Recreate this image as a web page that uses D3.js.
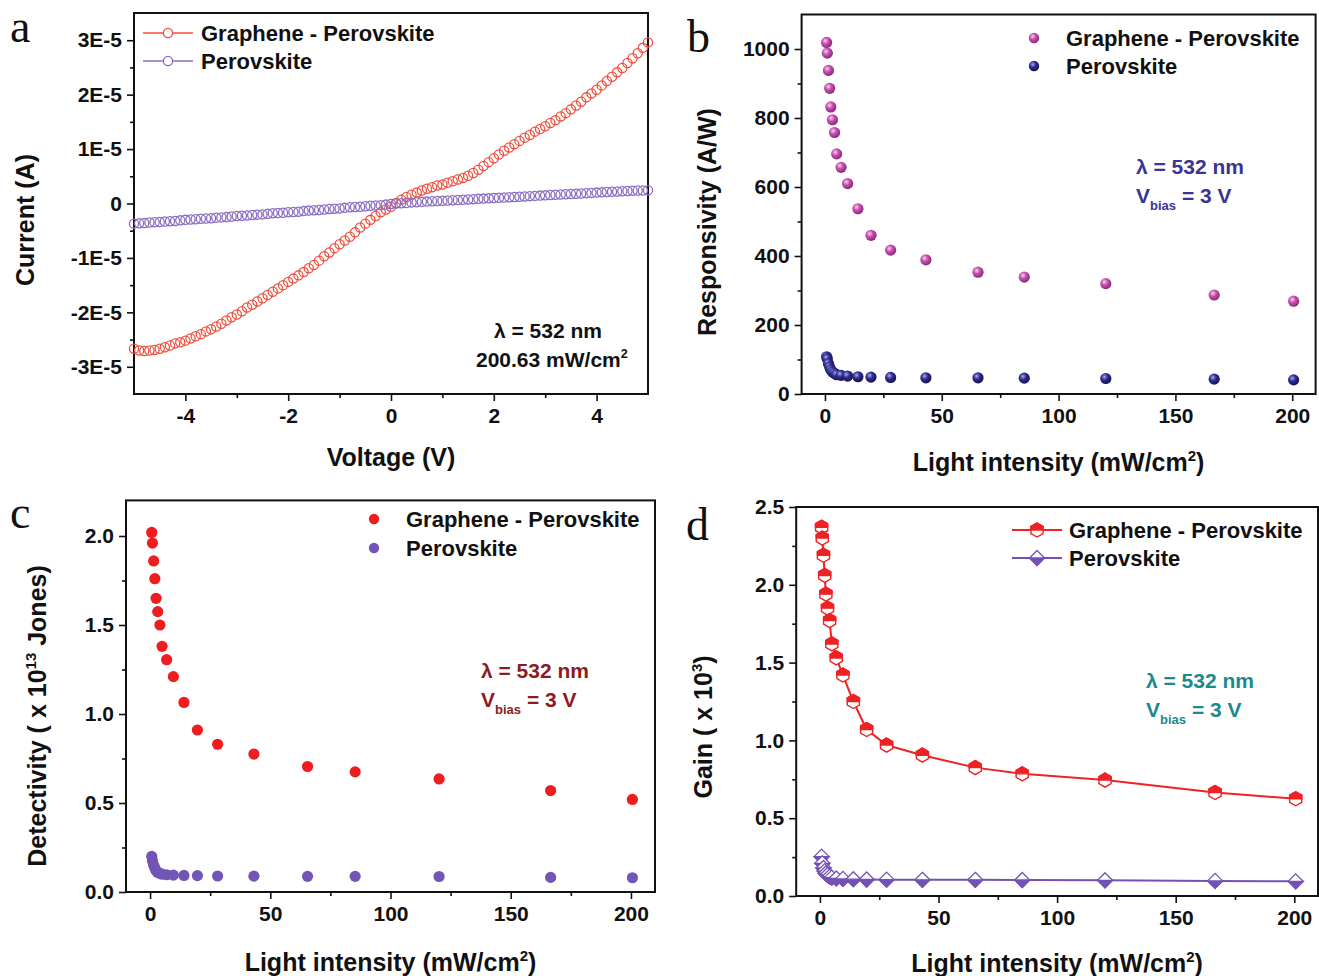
<!DOCTYPE html>
<html>
<head>
<meta charset="utf-8">
<script src="https://cdn.jsdelivr.net/npm/d3@7"></script>
<style>
    body { margin: 0; background: #fff; }
    svg text { font-family: "Liberation Sans", Arial, sans-serif; font-weight: bold; fill: #111; }
</style>
</head>
<body>
<div id="chart"></div>
<script>
"use strict";

// panel a: I-V sweep, current kept in units of 1E-5 A
var voltage = [
    -5.0, -4.9, -4.8, -4.7, -4.6, -4.5, -4.4, -4.3, -4.2, -4.1,
    -4.0, -3.9, -3.8, -3.7, -3.6, -3.5, -3.4, -3.3, -3.2, -3.1,
    -3.0, -2.9, -2.8, -2.7, -2.6, -2.5, -2.4, -2.3, -2.2, -2.1,
    -2.0, -1.9, -1.8, -1.7, -1.6, -1.5, -1.4, -1.3, -1.2, -1.1,
    -1.0, -0.9, -0.8, -0.7, -0.6, -0.5, -0.4, -0.3, -0.2, -0.1,
    0.0, 0.1, 0.2, 0.3, 0.4, 0.5, 0.6, 0.7, 0.8, 0.9,
    1.0, 1.1, 1.2, 1.3, 1.4, 1.5, 1.6, 1.7, 1.8, 1.9,
    2.0, 2.1, 2.2, 2.3, 2.4, 2.5, 2.6, 2.7, 2.8, 2.9,
    3.0, 3.1, 3.2, 3.3, 3.4, 3.5, 3.6, 3.7, 3.8, 3.9,
    4.0, 4.1, 4.2, 4.3, 4.4, 4.5, 4.6, 4.7, 4.8, 4.9,
    5.0
];
var currentGP = [
    -2.67, -2.70, -2.71, -2.70, -2.69, -2.67, -2.64, -2.61, -2.57, -2.55,
    -2.52, -2.48, -2.44, -2.40, -2.35, -2.31, -2.26, -2.21, -2.15, -2.09,
    -2.04, -1.98, -1.91, -1.86, -1.80, -1.74, -1.68, -1.62, -1.56, -1.50,
    -1.44, -1.38, -1.32, -1.26, -1.19, -1.13, -1.05, -0.97, -0.90, -0.82,
    -0.75, -0.68, -0.61, -0.53, -0.44, -0.37, -0.30, -0.23, -0.16, -0.11,
    -0.06, 0.01, 0.07, 0.12, 0.16, 0.20, 0.24, 0.27, 0.30, 0.33,
    0.35, 0.38, 0.41, 0.44, 0.47, 0.51, 0.56, 0.62, 0.69, 0.76,
    0.83, 0.90, 0.97, 1.03, 1.09, 1.15, 1.21, 1.26, 1.32, 1.37,
    1.42, 1.48, 1.53, 1.60, 1.66, 1.73, 1.80, 1.87, 1.95, 2.02,
    2.09, 2.17, 2.25, 2.33, 2.41, 2.49, 2.58, 2.67, 2.76, 2.86,
    2.96
];
var currentP = [
    -0.370, -0.365, -0.360, -0.350, -0.345, -0.340, -0.330, -0.325, -0.320, -0.310,
    -0.300, -0.295, -0.290, -0.280, -0.275, -0.270, -0.260, -0.255, -0.250, -0.240,
    -0.230, -0.225, -0.220, -0.210, -0.205, -0.200, -0.190, -0.180, -0.175, -0.170,
    -0.160, -0.155, -0.150, -0.140, -0.130, -0.125, -0.120, -0.110, -0.100, -0.095,
    -0.090, -0.080, -0.070, -0.065, -0.060, -0.050, -0.040, -0.035, -0.030, -0.020,
    -0.010, 0.000, 0.005, 0.010, 0.020, 0.025, 0.030, 0.035, 0.040, 0.045,
    0.050, 0.055, 0.060, 0.065, 0.070, 0.075, 0.080, 0.085, 0.090, 0.095,
    0.100, 0.105, 0.110, 0.115, 0.120, 0.125, 0.130, 0.135, 0.140, 0.145,
    0.150, 0.155, 0.160, 0.165, 0.170, 0.175, 0.180, 0.185, 0.190, 0.195,
    0.200, 0.205, 0.210, 0.215, 0.220, 0.225, 0.230, 0.235, 0.240, 0.240,
    0.245
];

// panels b-d share the light intensities (mW/cm2)
var intensity = [0.7, 1.0, 1.5, 2.0, 2.5, 3.2, 4.1, 5.0, 6.9, 9.7, 14.1, 19.7, 28.1, 43.2, 65.5, 85.3, 120.2, 166.6, 200.6];

var respGP = [1019, 988, 938, 886, 832, 795, 758, 696, 657, 610, 537, 460, 417, 389, 353, 339, 320, 287, 269];
var respP = [108, 102, 88, 78, 70, 64, 60, 56, 54, 52, 50, 49, 48, 47, 47, 46, 45, 43, 41];

var detGP = [2.02, 1.96, 1.86, 1.76, 1.65, 1.575, 1.50, 1.38, 1.305, 1.21, 1.065, 0.91, 0.83, 0.775, 0.705, 0.675, 0.635, 0.57, 0.52];
var detP = [0.20, 0.175, 0.15, 0.135, 0.12, 0.11, 0.105, 0.10, 0.097, 0.095, 0.093, 0.092, 0.090, 0.089, 0.088, 0.088, 0.087, 0.082, 0.080];

var gainGP = [2.37, 2.30, 2.19, 2.06, 1.94, 1.85, 1.77, 1.62, 1.53, 1.42, 1.25, 1.07, 0.97, 0.905, 0.825, 0.785, 0.745, 0.665, 0.625];
var gainP = [0.253, 0.21, 0.18, 0.16, 0.145, 0.135, 0.125, 0.118, 0.113, 0.11, 0.108, 0.106, 0.105, 0.104, 0.104, 0.103, 0.101, 0.097, 0.094];

// tick values
var voltTicks = [-4, -2, 0, 2, 4];
var voltMinor = [-3, -1, 1, 3];
var currentTicks = [-3, -2, -1, 0, 1, 2, 3];
var currentMinor = [-2.5, -1.5, -0.5, 0.5, 1.5, 2.5];
var intensityTicks = [0, 50, 100, 150, 200];
var intensityMinor = [25, 75, 125, 175];
var respTicks = [0, 200, 400, 600, 800, 1000];
var respMinor = [100, 300, 500, 700, 900];
var detTicks = [0, 0.5, 1.0, 1.5, 2.0];
var detMinor = [0.25, 0.75, 1.25, 1.75];
var gainTicks = [0, 0.5, 1.0, 1.5, 2.0, 2.5];
var gainMinor = [0.25, 0.75, 1.25, 1.75, 2.25];

var seriesNames = ["Graphene - Perovskite", "Perovskite"];

var svg = d3.select("#chart").append("svg")
    .attr("width", 1319)
    .attr("height", 976);

var defs = svg.append("defs");

// shaded balls for panel b
function ball_gradient(id, light, mid, dark) {
    var grad = defs.append("radialGradient")
        .attr("id", id)
        .attr("cx", "38%").attr("cy", "35%").attr("r", "65%");
    grad.append("stop").attr("offset", "0%").attr("stop-color", light);
    grad.append("stop").attr("offset", "45%").attr("stop-color", mid);
    grad.append("stop").attr("offset", "100%").attr("stop-color", dark);
}
ball_gradient("ballMagenta", "#f6d2ee", "#c64fb1", "#8a2a78");
ball_gradient("ballNavy", "#a8a8e8", "#2e2c92", "#15134f");

// plain hyphen minus like the original figure
function plain(d) { return String(d); }

// frame, major and minor ticks of one panel
function panel(p) {
    var g = svg.append("g");
    var x = d3.scaleLinear().domain(p.xDomain).range([p.left, p.right]);
    var y = d3.scaleLinear().domain(p.yDomain).range([p.bottom, p.top]);

    var xMinor = g.append("g")
        .attr("transform", "translate(0," + p.bottom + ")")
        .call(d3.axisBottom(x).tickValues(p.xMinor).tickSize(4).tickFormat(""));
    var yMinor = g.append("g")
        .attr("transform", "translate(" + p.left + ",0)")
        .call(d3.axisLeft(y).tickValues(p.yMinor).tickSize(4).tickFormat(""));

    var xAxis = g.append("g")
        .attr("transform", "translate(0," + p.bottom + ")")
        .call(d3.axisBottom(x).tickValues(p.xTicks).tickSize(7).tickPadding(7).tickFormat(p.xFormat));
    var yAxis = g.append("g")
        .attr("transform", "translate(" + p.left + ",0)")
        .call(d3.axisLeft(y).tickValues(p.yTicks).tickSize(7).tickPadding(5).tickFormat(p.yFormat));

    [xMinor, yMinor, xAxis, yAxis].forEach(function(a) {
        a.select(".domain").remove();
        a.selectAll(".tick line").attr("stroke", "#111").attr("stroke-width", 1.6);
    });
    [xAxis, yAxis].forEach(function(a) {
        a.selectAll(".tick text")
            .style("font-size", "21px")
            .style("font-family", "'Liberation Sans', Arial, sans-serif")
            .style("font-weight", "bold")
            .attr("fill", "#111");
    });

    g.append("rect")
        .attr("x", p.left)
        .attr("y", p.top)
        .attr("width", p.right - p.left)
        .attr("height", p.bottom - p.top)
        .attr("fill", "none")
        .attr("stroke", "#111")
        .attr("stroke-width", 2);

    // panel letter
    svg.append("text")
        .attr("x", p.letterPos[0])
        .attr("y", p.letterPos[1])
        .style("font-family", "'Liberation Serif', 'Times New Roman', serif")
        .style("font-weight", "normal")
        .style("font-size", "46px")
        .text(p.letter);

    // x title
    var xt = svg.append("text")
        .attr("x", (p.left + p.right) / 2)
        .attr("y", p.xTitleY)
        .attr("text-anchor", "middle")
        .style("font-size", "25px");
    add_rich(xt, p.xTitle, 25);

    // y title
    var yt = svg.append("text")
        .attr("transform", "translate(" + p.yTitlePos[0] + "," + p.yTitlePos[1] + ") rotate(-90)")
        .attr("text-anchor", "middle")
        .style("font-size", "25px");
    add_rich(yt, p.yTitle, 25);

    return {g: g, x: x, y: y};
}

// text pieces: [string, "sup"|"sub"|undefined]
function add_rich(sel, parts, size) {
    var shift = 0;
    parts.forEach(function(part) {
        var dy = 0;
        var t = sel.append("tspan").text(part[0]);
        if (part[1] === "sup") {
            dy = -0.42 * size;
            t.style("font-size", (size * 0.6) + "px");
        } else if (part[1] === "sub") {
            dy = 0.32 * size;
            t.style("font-size", (size * 0.62) + "px");
        }
        t.attr("dy", dy - shift);
        shift = dy;
    });
}

function annotate(x, y, lines, color, size) {
    lines.forEach(function(line, i) {
        var t = svg.append("text")
            .attr("x", x)
            .attr("y", y + i * 29)
            .style("font-size", size + "px")
            .style("fill", color);
        add_rich(t, line, size);
    });
}

function xy(xs, ys) {
    return xs.map(function(v, i) { return [v, ys[i]]; });
}

function legend_text(x, y, label) {
    svg.append("text")
        .attr("x", x)
        .attr("y", y + 8)
        .style("font-size", "22px")
        .text(label);
}

var lightTitle = [["Light intensity (mW/cm"], ["2", "sup"], [")"]];

// ---------- panel a ----------
var pa = panel({
    left: 134, right: 648, top: 13, bottom: 394,
    xDomain: [-5, 5], yDomain: [-3.5, 3.5],
    xTicks: voltTicks, xMinor: voltMinor, yTicks: currentTicks, yMinor: currentMinor,
    xFormat: plain,
    yFormat: function(d) { return d === 0 ? "0" : d + "E-5"; },
    letter: "a", letterPos: [10, 42],
    xTitle: [["Voltage (V)"]], xTitleY: 466,
    yTitle: [["Current (A)"]], yTitlePos: [34, 220]
});

var ivColors = ["#f0503e", "#8a6cc4"];
[currentGP, currentP].forEach(function(series, k) {
    pa.g.append("g").selectAll("circle")
        .data(xy(voltage, series))
        .enter()
        .append("circle")
        .attr("cx", function(d) { return pa.x(d[0]); })
        .attr("cy", function(d) { return pa.y(d[1]); })
        .attr("r", 4.6)
        .attr("fill", "none")
        .attr("stroke", ivColors[k])
        .attr("stroke-width", 1.3);

    var ly = 33 + k * 28;
    svg.append("line").attr("x1", 143).attr("x2", 193).attr("y1", ly).attr("y2", ly)
        .attr("stroke", ivColors[k]).attr("stroke-width", 1.6);
    svg.append("circle").attr("cx", 168).attr("cy", ly).attr("r", 4.6)
        .attr("fill", "#fff").attr("stroke", ivColors[k]).attr("stroke-width", 1.4);
    legend_text(201, ly, seriesNames[k]);
});
annotate(494, 338, [[["\u03bb = 532 nm"]]], "#111", 21);
annotate(476, 338, [[[""]], [["200.63 mW/cm"], ["2", "sup"]]], "#111", 21);

// ---------- panel b ----------
var pb = panel({
    left: 801.6, right: 1315.6, top: 14.5, bottom: 394,
    xDomain: [-10, 210], yDomain: [0, 1100],
    xTicks: intensityTicks, xMinor: intensityMinor, yTicks: respTicks, yMinor: respMinor,
    xFormat: plain, yFormat: plain,
    letter: "b", letterPos: [687, 52],
    xTitle: lightTitle, xTitleY: 471,
    yTitle: [["Responsivity (A/W)"]], yTitlePos: [716, 222]
});

["ballMagenta", "ballNavy"].forEach(function(fill, k) {
    var series = k === 0 ? respGP : respP;
    pb.g.append("g").selectAll("circle")
        .data(xy(intensity, series))
        .enter()
        .append("circle")
        .attr("cx", function(d) { return pb.x(d[0]); })
        .attr("cy", function(d) { return pb.y(d[1]); })
        .attr("r", 5.6)
        .attr("fill", "url(#" + fill + ")");
    var ly = 38 + k * 28;
    svg.append("circle").attr("cx", 1034).attr("cy", ly).attr("r", 5.2).attr("fill", "url(#" + fill + ")");
    legend_text(1066, ly, seriesNames[k]);
});
annotate(1136, 174, [
    [["\u03bb = 532 nm"]],
    [["V"], ["bias", "sub"], [" = 3 V"]]
], "#3a3592", 21);

// ---------- panel c ----------
var pc = panel({
    left: 126, right: 655, top: 500.4, bottom: 892,
    xDomain: [-10, 210], yDomain: [0, 2.2],
    xTicks: intensityTicks, xMinor: intensityMinor, yTicks: detTicks, yMinor: detMinor,
    xFormat: plain, yFormat: d3.format(".1f"),
    letter: "c", letterPos: [10, 528],
    xTitle: lightTitle, xTitleY: 971,
    yTitle: [["Detectivity ( x 10"], ["13", "sup"], [" Jones)"]], yTitlePos: [46, 716]
});

var detColors = ["#ee1d1f", "#7355b6"];
[detGP, detP].forEach(function(series, k) {
    pc.g.append("g").selectAll("circle")
        .data(xy(intensity, series))
        .enter()
        .append("circle")
        .attr("cx", function(d) { return pc.x(d[0]); })
        .attr("cy", function(d) { return pc.y(d[1]); })
        .attr("r", 5.6)
        .attr("fill", detColors[k]);
    var ly = 519 + k * 29;
    svg.append("circle").attr("cx", 374).attr("cy", ly).attr("r", 5.2).attr("fill", detColors[k]);
    legend_text(406, ly, seriesNames[k]);
});
annotate(481, 678, [
    [["\u03bb = 532 nm"]],
    [["V"], ["bias", "sub"], [" = 3 V"]]
], "#8c1c22", 21);

// ---------- panel d ----------
var pd = panel({
    left: 796.2, right: 1318, top: 507, bottom: 896,
    xDomain: [-10, 210], yDomain: [0, 2.5],
    xTicks: intensityTicks, xMinor: intensityMinor, yTicks: gainTicks, yMinor: gainMinor,
    xFormat: plain, yFormat: d3.format(".1f"),
    letter: "d", letterPos: [686, 540],
    xTitle: lightTitle, xTitleY: 972,
    yTitle: [["Gain ( x 10"], ["3", "sup"], [")"]], yTitlePos: [712, 727]
});

var gainColors = ["#ee2224", "#7352b4"];
var line = d3.line();

// half filled hexagon (top filled) and diamond (bottom filled)
function hex_marker(g, cx, cy, r, color) {
    var c = r * Math.cos(Math.PI / 6);
    var full = [[0, -r], [c, -r / 2], [c, r / 2], [0, r], [-c, r / 2], [-c, -r / 2]];
    var top = [[-c, 0], [-c, -r / 2], [0, -r], [c, -r / 2], [c, 0]];
    g.append("polygon")
        .attr("points", full.map(function(p) { return (cx + p[0]) + "," + (cy + p[1]); }).join(" "))
        .attr("fill", "#fff").attr("stroke", color).attr("stroke-width", 1.4);
    g.append("polygon")
        .attr("points", top.map(function(p) { return (cx + p[0]) + "," + (cy + p[1]); }).join(" "))
        .attr("fill", color).attr("stroke", color).attr("stroke-width", 1.4);
}
function diamond_marker(g, cx, cy, r, color) {
    var full = [[0, -r], [r, 0], [0, r], [-r, 0]];
    var bottom = [[-r, 0], [0, r], [r, 0]];
    g.append("polygon")
        .attr("points", full.map(function(p) { return (cx + p[0]) + "," + (cy + p[1]); }).join(" "))
        .attr("fill", "#fff").attr("stroke", color).attr("stroke-width", 1.3);
    g.append("polygon")
        .attr("points", bottom.map(function(p) { return (cx + p[0]) + "," + (cy + p[1]); }).join(" "))
        .attr("fill", color).attr("stroke", color).attr("stroke-width", 1.3);
}

[gainGP, gainP].forEach(function(series, k) {
    var pts = xy(intensity, series);
    pd.g.append("path")
        .attr("d", line(pts.map(function(d) { return [pd.x(d[0]), pd.y(d[1])]; })))
        .attr("fill", "none")
        .attr("stroke", gainColors[k])
        .attr("stroke-width", 2);
    var mg = pd.g.append("g");
    pts.forEach(function(d) {
        if (k === 0) {
            hex_marker(mg, pd.x(d[0]), pd.y(d[1]), 7, gainColors[k]);
        } else {
            diamond_marker(mg, pd.x(d[0]), pd.y(d[1]), 7.5, gainColors[k]);
        }
    });
    var ly = 530 + k * 28;
    svg.append("line").attr("x1", 1012).attr("x2", 1062).attr("y1", ly).attr("y2", ly)
        .attr("stroke", gainColors[k]).attr("stroke-width", 2);
    if (k === 0) {
        hex_marker(svg, 1037, ly, 7, gainColors[k]);
    } else {
        diamond_marker(svg, 1037, ly, 7.5, gainColors[k]);
    }
    legend_text(1069, ly, seriesNames[k]);
});
annotate(1146, 688, [
    [["\u03bb = 532 nm"]],
    [["V"], ["bias", "sub"], [" = 3 V"]]
], "#1c8a8c", 21);
</script>
</body>
</html>
